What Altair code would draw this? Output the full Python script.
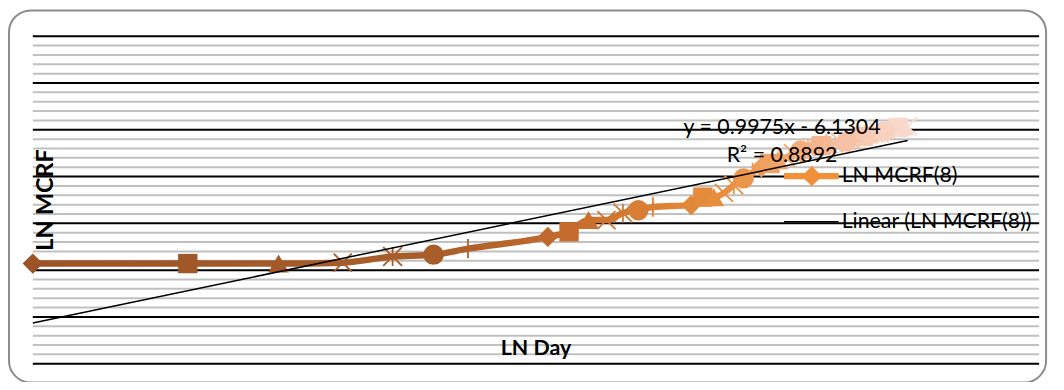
import altair as alt
import pandas as pd

# ---- data ----
ln_day = [0.000, 0.693, 1.099, 1.386, 1.609, 1.792, 1.946,
          2.303, 2.398, 2.485, 2.565, 2.639, 2.708, 2.773,
          2.944, 2.996, 3.045, 3.091, 3.135, 3.178,
          3.219, 3.258, 3.296, 3.332, 3.367, 3.401, 3.434, 3.466, 3.497, 3.526,
          3.555, 3.584, 3.611, 3.638, 3.664, 3.689, 3.714, 3.738, 3.761, 3.784,
          3.807, 3.829, 3.850, 3.871, 3.892, 3.912]
ln_mcrf = [-4.86, -4.86, -4.86, -4.84, -4.71, -4.67, -4.54,
           -4.29, -4.18, -3.93, -3.93, -3.78, -3.72, -3.65,
           -3.61, -3.44, -3.44, -3.35, -3.18, -3.04,
           -2.91, -2.80, -2.72, -2.65, -2.59, -2.51, -2.44, -2.40, -2.36, -2.34,
           -2.31, -2.29, -2.27, -2.25, -2.23, -2.19, -2.14, -2.10, -2.08, -2.06,
           -2.04, -2.00, -1.98, -1.95, -1.93, -1.93]
slope = 0.9975
intercept = -6.1304
major_y = [-7, -6, -5, -4, -3, -2, -1, 0]
minor_y = [round(-7 + 0.2 * i, 2) for i in range(36) if i % 5 != 0]
eq_text = ["y = 0.9975x - 6.1304"]
r2_text = ["R² = 0.8892"]
x_title = ["LN Day"]
y_title = ["LN MCRF"]
legend_series = ["LN MCRF(8)"]
legend_trend = ["Linear (LN MCRF(8))"]

# ---- styles ----
shape_cycle = ["diamond", "square", "triangle-up", "xmark", "star", "circle", "plus"]
shape_paths = {
    "diamond": "diamond", "square": "square", "triangle-up": "triangle-up",
    "circle": "circle",
    "xmark": "M-1,-1L1,1M1,-1L-1,1",
    "star": "M-1,-1L1,1M1,-1L-1,1M0,-1L0,1",
    "plus": "M-1,0L1,0M0,-1L0,1",
}
filled_shapes = {"diamond": 420, "square": 380, "triangle-up": 440, "circle": 420}
stroked_shapes = {"xmark": 330, "star": 360, "plus": 380}
col_dom = [0.0, 1.8, 2.4, 2.8, 3.1, 3.3, 3.6, 3.92]
col_rng = ["#9C5426", "#A95E2A", "#C46B2D", "#DC8236", "#E98F3E", "#F0A060", "#F5BE9E", "#F9DCD0"]

FONT = "Lato"

df = pd.DataFrame({"x": ln_day, "y": ln_mcrf})
df["shape"] = [shape_cycle[i % 7] for i in range(len(df))]

xs = alt.Scale(domain=[0, 4.5], nice=False, zero=False)
ys = alt.Scale(domain=[-7, 0], nice=False, zero=False)
X = alt.X("x:Q", scale=xs, axis=None)
Y = alt.Y("y:Q", scale=ys, axis=None)
colscale = alt.Scale(domain=col_dom, range=col_rng)
C = alt.Color("x:Q", scale=colscale, legend=None)

minor = alt.Chart(pd.DataFrame({"y": minor_y})).mark_rule(color="#C0C0C0", strokeWidth=2).encode(y=Y)
major = alt.Chart(pd.DataFrame({"y": major_y})).mark_rule(color="#000000", strokeWidth=2).encode(y=Y)

span = col_dom[-1]
stops = [alt.GradientStop(color=c, offset=min(1.0, d / span)) for d, c in zip(col_dom, col_rng)]
line = alt.Chart(df).mark_line(
    strokeWidth=6.5, interpolate="monotone",
    color=alt.Gradient(gradient="linear", stops=stops, x1=0, x2=1, y1=0, y2=0),
).encode(x=X, y=Y, order="x:Q")

marker_layers = []
for name in shape_cycle:
    sub = df[df["shape"] == name]
    if name in filled_shapes:
        m = alt.Chart(sub).mark_point(shape=shape_paths[name], filled=True, opacity=1,
                                      size=filled_shapes[name], strokeWidth=0)
    else:
        m = alt.Chart(sub).mark_point(shape=shape_paths[name], filled=False, opacity=1,
                                      size=stroked_shapes[name], strokeWidth=1.8)
    marker_layers.append(m.encode(x=X, y=Y, color=C))

trend_df = pd.DataFrame({"x": [ln_day[0], ln_day[-1]]})
trend_df["y"] = slope * trend_df["x"] + intercept
trend = alt.Chart(trend_df).mark_line(color="#000000", strokeWidth=1.5).encode(x=X, y=Y)

def txt(values, x, y, size=18, bold=False, angle=0, align="center"):
    kw = dict(font=FONT, fontSize=size, color="#000000", align=align, baseline="middle")
    if bold:
        kw["fontWeight"] = "bold"
    if angle:
        kw["angle"] = angle
    return alt.Chart(pd.DataFrame({"t": values})).mark_text(**kw).encode(
        x=alt.value(x), y=alt.value(y), text="t:N")

eq = txt(eq_text, 755, 93, size=21.5)
r2 = txt(r2_text, 755, 121, size=21.5)
xt = txt(x_title, 507, 315, size=21.5, bold=True)
yt = txt(y_title, 13, 165, size=23.5, bold=True, angle=270)

one = pd.DataFrame({"k": [0]})
leg_line = alt.Chart(one).mark_rule(color="#F0913A", strokeWidth=6.5).encode(
    x=alt.value(757), x2=alt.value(812), y=alt.value(141))
leg_pt = alt.Chart(one).mark_point(shape="diamond", filled=True, opacity=1, size=420, color="#F0913A").encode(
    x=alt.value(785), y=alt.value(141))
leg_t1 = txt(legend_series, 815, 141, size=21.5, align="left")
leg_line2 = alt.Chart(one).mark_rule(color="#000000", strokeWidth=1.5).encode(
    x=alt.value(757), x2=alt.value(812), y=alt.value(187))
leg_t2 = txt(legend_trend, 815, 187, size=21.5, align="left")

border = alt.Chart(one).mark_rect(filled=False, stroke="#8C8C8C", strokeWidth=2, cornerRadius=22).encode(
    x=alt.value(-24), x2=alt.value(1021), y=alt.value(-26), y2=alt.value(349))

chart = alt.layer(
    border, minor, major, line, *marker_layers, trend,
    eq, r2, xt, yt, leg_line, leg_pt, leg_t1, leg_line2, leg_t2,
).properties(
    width=1014, height=330,
    padding={"left": 25, "top": 27, "right": 17, "bottom": 17},
    autosize=alt.AutoSizeParams(type="none"),
).configure_view(stroke=None)

chart.save("out.html", embed_options={"renderer": "svg", "actions": False})
